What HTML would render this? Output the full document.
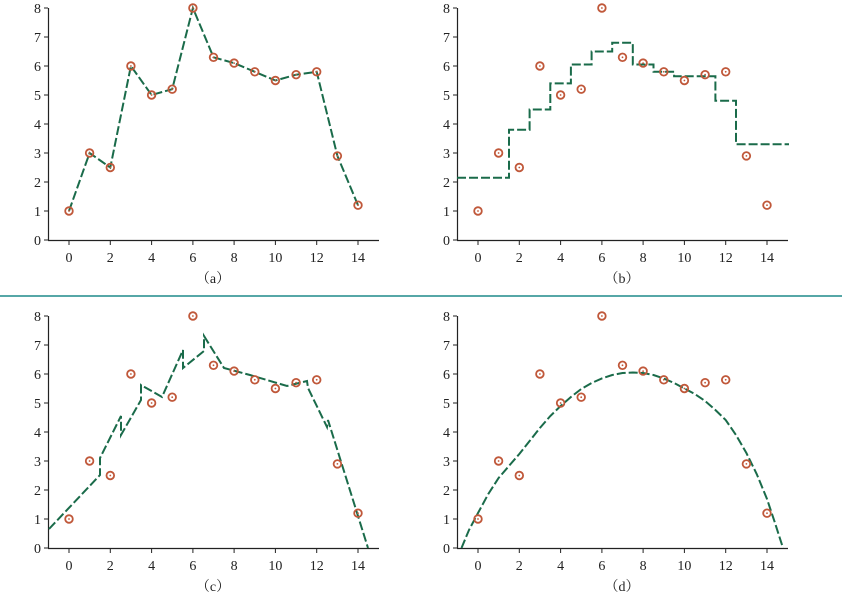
<!DOCTYPE html>
<html><head><meta charset="utf-8"><style>
html,body{margin:0;padding:0;background:#fff;}
svg text{font-family:"Liberation Serif","Noto Serif CJK SC",serif;font-size:14px;fill:#222;}
</style></head><body>
<svg width="842" height="596" viewBox="0 0 842 596" xmlns="http://www.w3.org/2000/svg">
<defs>
<g id="pt"><circle r="3.8" fill="none" stroke="#c0583a" stroke-width="1.8"/><circle r="0.9" fill="#c0583a"/></g>
<g id="ax">
<line x1="48.5" y1="8" x2="48.5" y2="240.5" stroke="#222" stroke-width="1.2"/>
<line x1="48" y1="240.5" x2="379" y2="240.5" stroke="#222" stroke-width="1.2"/>
<g stroke="#222" stroke-width="1">
<line x1="69" y1="240" x2="69" y2="245"/><line x1="110.3" y1="240" x2="110.3" y2="245"/><line x1="151.6" y1="240" x2="151.6" y2="245"/><line x1="192.9" y1="240" x2="192.9" y2="245"/><line x1="234.1" y1="240" x2="234.1" y2="245"/><line x1="275.4" y1="240" x2="275.4" y2="245"/><line x1="316.7" y1="240" x2="316.7" y2="245"/><line x1="358" y1="240" x2="358" y2="245"/>
<line x1="44" y1="240" x2="48" y2="240"/><line x1="44" y1="211" x2="48" y2="211"/><line x1="44" y1="182" x2="48" y2="182"/><line x1="44" y1="153" x2="48" y2="153"/><line x1="44" y1="124" x2="48" y2="124"/><line x1="44" y1="95" x2="48" y2="95"/><line x1="44" y1="66" x2="48" y2="66"/><line x1="44" y1="37" x2="48" y2="37"/><line x1="44" y1="8" x2="48" y2="8"/>
</g>
</g>
<g id="pts">
<use href="#pt" x="69" y="211"/><use href="#pt" x="89.6" y="153"/><use href="#pt" x="110.3" y="167.5"/><use href="#pt" x="130.9" y="66"/><use href="#pt" x="151.6" y="95"/><use href="#pt" x="172.2" y="89.2"/><use href="#pt" x="192.9" y="8"/><use href="#pt" x="213.5" y="57.3"/><use href="#pt" x="234.1" y="63.1"/><use href="#pt" x="254.8" y="71.8"/><use href="#pt" x="275.4" y="80.5"/><use href="#pt" x="296.1" y="74.7"/><use href="#pt" x="316.7" y="71.8"/><use href="#pt" x="337.4" y="155.9"/><use href="#pt" x="358" y="205.2"/>
</g>
</defs>
<line x1="0" y1="296" x2="842" y2="296" stroke="#1f8a8a" stroke-width="1.5"/>

<!-- Panel a -->
<g>
<use href="#ax"/>
<g text-anchor="end">
<text x="41" y="245">0</text><text x="41" y="216">1</text><text x="41" y="187">2</text><text x="41" y="158">3</text><text x="41" y="129">4</text><text x="41" y="100">5</text><text x="41" y="71">6</text><text x="41" y="42">7</text><text x="41" y="13">8</text>
</g>
<g text-anchor="middle">
<text x="69" y="262">0</text><text x="110.3" y="262">2</text><text x="151.6" y="262">4</text><text x="192.9" y="262">6</text><text x="234.1" y="262">8</text><text x="275.4" y="262">10</text><text x="316.7" y="262">12</text><text x="358" y="262">14</text>
<text x="213" y="283">（a）</text>
</g>
<polyline fill="none" stroke="#1a6b4a" stroke-width="2" stroke-dasharray="9,3" points="69,211 89.6,153 110.3,167.5 130.9,66 151.6,95 172.2,89.2 192.9,8 213.5,57.3 234.1,63.1 254.8,71.8 275.4,80.5 296.1,74.7 316.7,71.8 337.4,155.9 358,205.2"/>
<use href="#pts"/>
</g>

<!-- Panel b -->
<g transform="translate(409,0)">
<use href="#ax"/>
<g text-anchor="end">
<text x="41" y="245">0</text><text x="41" y="216">1</text><text x="41" y="187">2</text><text x="41" y="158">3</text><text x="41" y="129">4</text><text x="41" y="100">5</text><text x="41" y="71">6</text><text x="41" y="42">7</text><text x="41" y="13">8</text>
</g>
<g text-anchor="middle">
<text x="69" y="262">0</text><text x="110.3" y="262">2</text><text x="151.6" y="262">4</text><text x="192.9" y="262">6</text><text x="234.1" y="262">8</text><text x="275.4" y="262">10</text><text x="316.7" y="262">12</text><text x="358" y="262">14</text>
<text x="213" y="283">（b）</text>
</g>
<polyline fill="none" stroke="#1a6b4a" stroke-width="2" stroke-dasharray="9,3" points="48,177.7 100,177.7 100,129.8 120.6,129.8 120.6,109.5 141.3,109.5 141.3,83.4 161.9,83.4 161.9,64.5 182.6,64.5 182.6,51.5 203.2,51.5 203.2,42.8 223.8,42.8 223.8,64.5 244.5,64.5 244.5,71.8 265.1,71.8 265.1,76.2 306.4,76.2 306.4,100.8 327,100.8 327,144.3 380,144.3"/>
<use href="#pts"/>
</g>

<!-- Panel c -->
<g transform="translate(0,308)">
<use href="#ax"/>
<g text-anchor="end">
<text x="41" y="245">0</text><text x="41" y="216">1</text><text x="41" y="187">2</text><text x="41" y="158">3</text><text x="41" y="129">4</text><text x="41" y="100">5</text><text x="41" y="71">6</text><text x="41" y="42">7</text><text x="41" y="13">8</text>
</g>
<g text-anchor="middle">
<text x="69" y="262">0</text><text x="110.3" y="262">2</text><text x="151.6" y="262">4</text><text x="192.9" y="262">6</text><text x="234.1" y="262">8</text><text x="275.4" y="262">10</text><text x="316.7" y="262">12</text><text x="358" y="262">14</text>
<text x="213" y="283">（c）</text>
</g>
<polyline fill="none" stroke="#1a6b4a" stroke-width="2" stroke-dasharray="9,3" points="49,221 100,167 100,150 121,108 121,127 141,92 141,77 162,89 183,42 183,60 204,43 204,28 224,60 250,67 287,78 307,73 308,80 327,119 328,112 368,240"/>
<use href="#pts"/>
</g>

<!-- Panel d -->
<g transform="translate(409,308)">
<use href="#ax"/>
<g text-anchor="end">
<text x="41" y="245">0</text><text x="41" y="216">1</text><text x="41" y="187">2</text><text x="41" y="158">3</text><text x="41" y="129">4</text><text x="41" y="100">5</text><text x="41" y="71">6</text><text x="41" y="42">7</text><text x="41" y="13">8</text>
</g>
<g text-anchor="middle">
<text x="69" y="262">0</text><text x="110.3" y="262">2</text><text x="151.6" y="262">4</text><text x="192.9" y="262">6</text><text x="234.1" y="262">8</text><text x="275.4" y="262">10</text><text x="316.7" y="262">12</text><text x="358" y="262">14</text>
<text x="213" y="283">（d）</text>
</g>
<polyline fill="none" stroke="#1a6b4a" stroke-width="2" stroke-dasharray="9,3" points="52.5,240 60,222 69,205 79.3,186 89.6,170 99.9,158 110.3,146 120.6,133 130.9,120 141.3,108 151.6,98 161.9,89 172.2,81 182.6,75 192.9,70.4 203.2,67 213.5,65 223.8,64.5 234.1,65 244.5,67 254.8,70.5 265.1,75 275.4,80.5 285.8,86 296.1,93 306.4,102 316.7,112 327,127 337.4,145 347.7,166 358,191 366,215 374,240"/>
<use href="#pts"/>
</g>
</svg>
</body></html>
